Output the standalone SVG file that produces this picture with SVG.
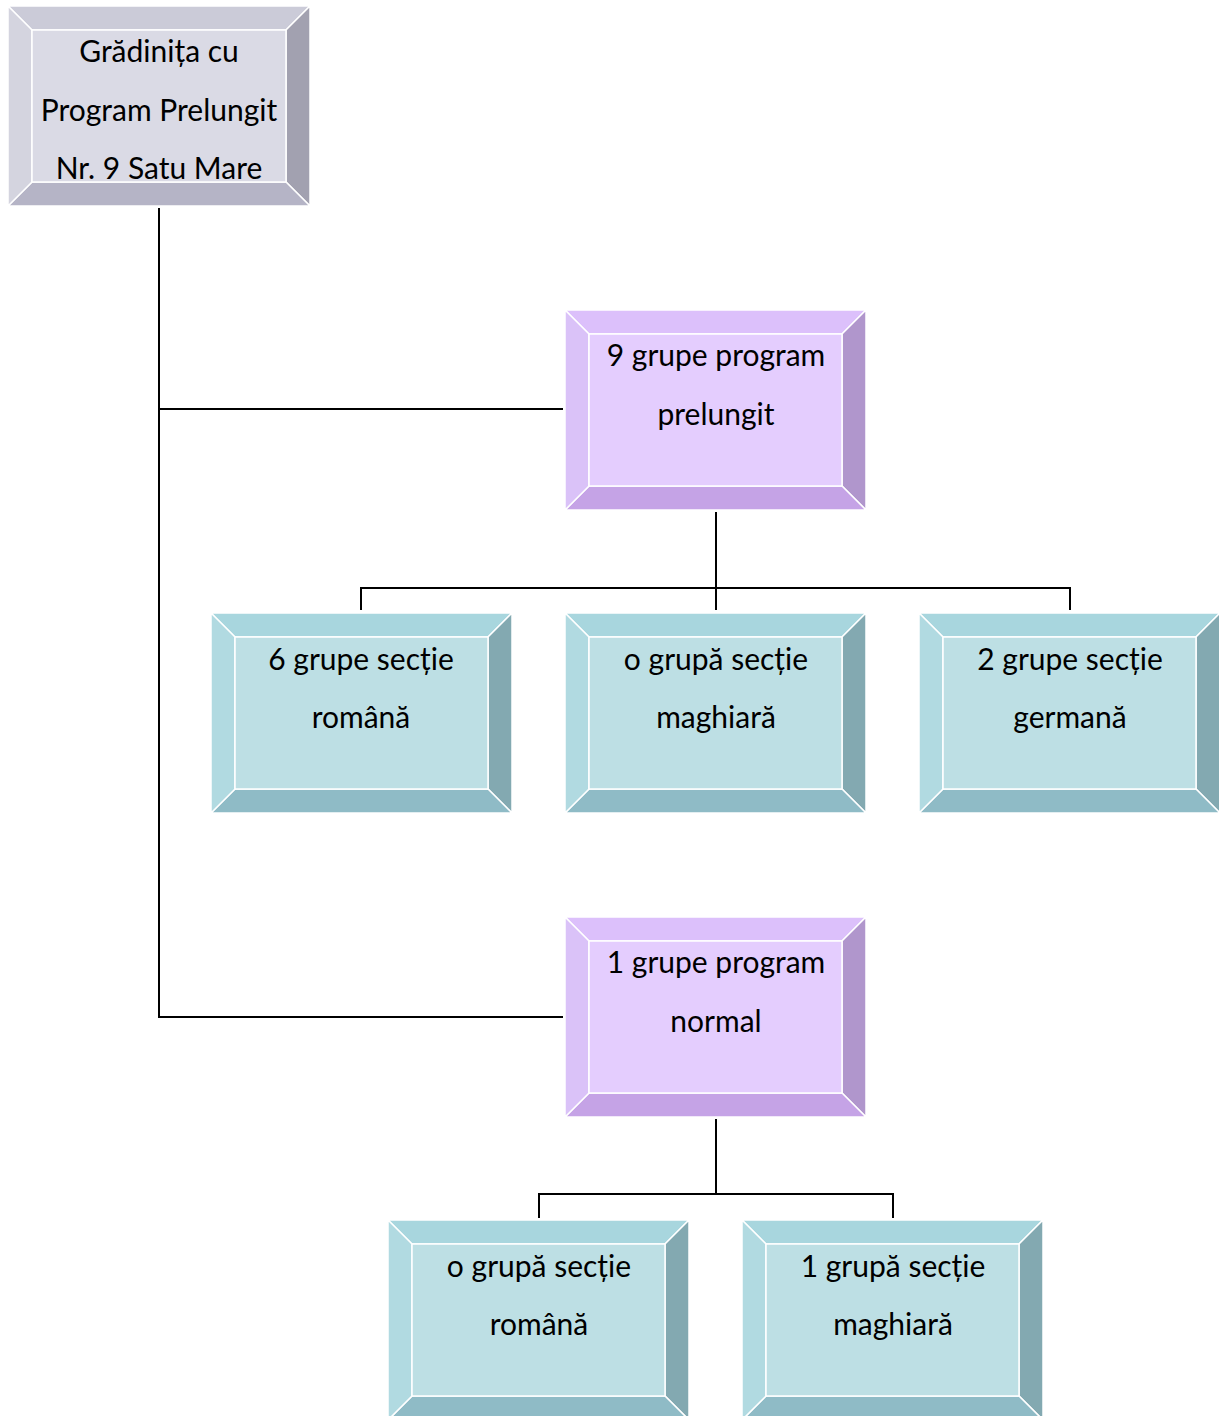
<svg xmlns="http://www.w3.org/2000/svg" xmlns:xlink="http://www.w3.org/1999/xlink" width="1219" height="1416" viewBox="0 0 1219 1416">
<style>
.t{font-family:Lato,"Noto Sans",sans-serif;font-size:30px;fill:#000;text-anchor:middle}
.c{fill:none;stroke:#000;stroke-width:2}
.b{stroke:#fff;stroke-width:1.5}
</style>
<defs>
<symbol id="gray" viewBox="0 0 302 200" width="302" height="200" overflow="visible">
<polygon class="b" points="0,0 302,0 278,24 24,24" fill="#cbcbd8"/>
<polygon class="b" points="302,0 302,200 278,176 278,24" fill="#a2a1b0"/>
<polygon class="b" points="0,200 302,200 278,176 24,176" fill="#b5b4c6"/>
<polygon class="b" points="0,0 24,24 24,176 0,200" fill="#d4d4df"/>
<rect class="b" x="24" y="24" width="254" height="152" fill="#dadae5"/>
</symbol>
<symbol id="purple" viewBox="0 0 301 200" width="301" height="200" overflow="visible">
<polygon class="b" points="0,0 301,0 277,24 24,24" fill="#dcc0fb"/>
<polygon class="b" points="301,0 301,200 277,176 277,24" fill="#b096cc"/>
<polygon class="b" points="0,200 301,200 277,176 24,176" fill="#c5a3e6"/>
<polygon class="b" points="0,0 24,24 24,176 0,200" fill="#dac2f8"/>
<rect class="b" x="24" y="24" width="253" height="152" fill="#e4cdfe"/>
</symbol>
<symbol id="teal" viewBox="0 0 301 200" width="301" height="200" overflow="visible">
<polygon class="b" points="0,0 301,0 277,24 24,24" fill="#a8d6de"/>
<polygon class="b" points="301,0 301,200 277,176 277,24" fill="#83a9b1"/>
<polygon class="b" points="0,200 301,200 277,176 24,176" fill="#8fbbc6"/>
<polygon class="b" points="0,0 24,24 24,176 0,200" fill="#b1dae1"/>
<rect class="b" x="24" y="24" width="253" height="152" fill="#bddfe4"/>
</symbol>
</defs>
<rect width="1219" height="1416" fill="#fff"/>
<g id="connectors">
<path class="c" d="M159,208 V1017 H563 M159,409 H563"/>
<path class="c" d="M716,512 V610 M361,610 V588 H1070 V610"/>
<path class="c" d="M716,1119 V1194 M539,1218 V1194 H893 V1218"/>
</g>
<g id="root">
<use xlink:href="#gray" x="8" y="6"/>
<text class="t" x="159" y="62">Grădinița cu</text>
<text class="t" x="159" y="121">Program Prelungit</text>
<text class="t" x="159" y="179">Nr. 9 Satu Mare</text>
</g>
<g id="prelungit">
<use xlink:href="#purple" x="565" y="310"/>
<text class="t" x="716" y="366">9 grupe program</text>
<text class="t" x="716" y="425">prelungit</text>
</g>
<g id="pr-romana">
<use xlink:href="#teal" x="211" y="613"/>
<text class="t" x="361" y="670">6 grupe secție</text>
<text class="t" x="361" y="728">română</text>
</g>
<g id="pr-maghiara">
<use xlink:href="#teal" x="565" y="613"/>
<text class="t" x="716" y="670">o grupă secție</text>
<text class="t" x="716" y="728">maghiară</text>
</g>
<g id="pr-germana">
<use xlink:href="#teal" x="919" y="613"/>
<text class="t" x="1070" y="670">2 grupe secție</text>
<text class="t" x="1070" y="728">germană</text>
</g>
<g id="normal">
<use xlink:href="#purple" x="565" y="917"/>
<text class="t" x="716" y="973">1 grupe program</text>
<text class="t" x="716" y="1032">normal</text>
</g>
<g id="n-romana">
<use xlink:href="#teal" x="388" y="1220"/>
<text class="t" x="539" y="1277">o grupă secție</text>
<text class="t" x="539" y="1335">română</text>
</g>
<g id="n-maghiara">
<use xlink:href="#teal" x="742" y="1220"/>
<text class="t" x="893" y="1277">1 grupă secție</text>
<text class="t" x="893" y="1335">maghiară</text>
</g>
</svg>
